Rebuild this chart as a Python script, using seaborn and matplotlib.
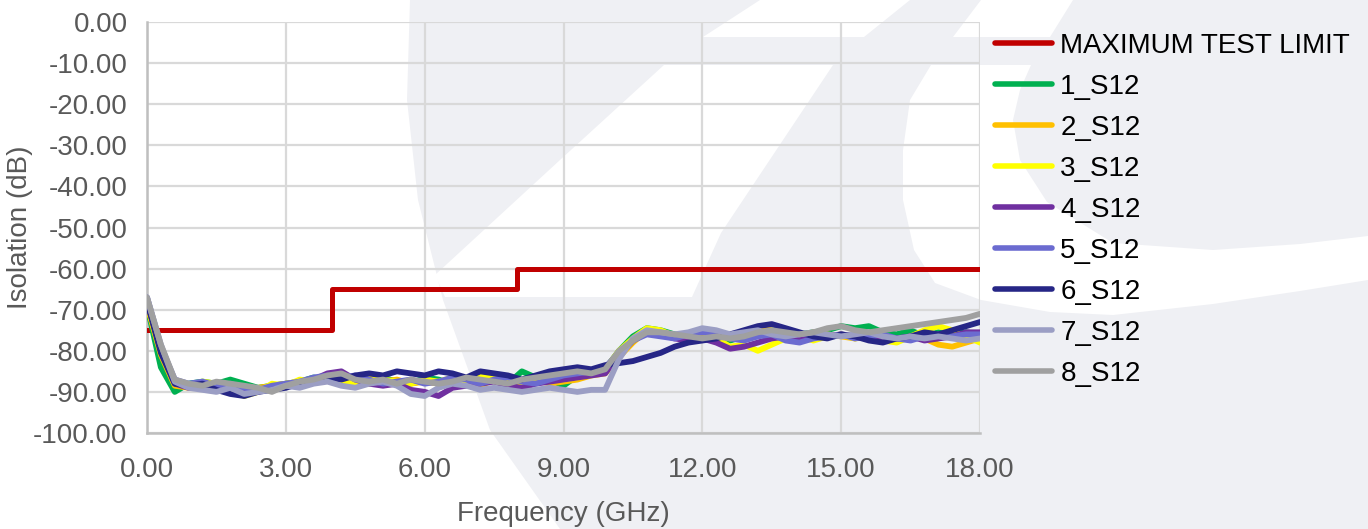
import numpy as np
import pandas as pd
import seaborn as sns
import matplotlib.pyplot as plt
from matplotlib.patches import Polygon
from matplotlib.lines import Line2D

sns.set_style("white")
plt.rcParams['font.family'] = ['Liberation Sans', 'DejaVu Sans']

## data (Isolation in dB vs frequency in GHz)
freq_ghz = [0.0, 0.3, 0.6, 0.9, 1.2, 1.5, 1.8, 2.1, 2.4, 2.7,
            3.0, 3.3, 3.6, 3.9, 4.2, 4.5, 4.8, 5.1, 5.4, 5.7,
            6.0, 6.3, 6.6, 6.9, 7.2, 7.5, 7.8, 8.1, 8.4, 8.7,
            9.0, 9.3, 9.6, 9.9, 10.2, 10.5, 10.8, 11.1, 11.4, 11.7,
            12.0, 12.3, 12.6, 12.9, 13.2, 13.5, 13.8, 14.1, 14.4, 14.7,
            15.0, 15.3, 15.6, 15.9, 16.2, 16.5, 16.8, 17.1, 17.4, 17.7,
            18.0]

s12_1 = [-69.0, -84.0, -90.0, -88.0, -87.5, -88.0, -87.0, -88.0, -89.0, -88.5,
         -88.0, -87.5, -86.5, -87.0, -88.0, -87.5, -87.0, -86.5, -87.5, -88.0,
         -86.5, -87.0, -88.0, -87.5, -86.0, -87.0, -88.0, -85.0, -86.5, -87.0,
         -88.5, -86.0, -85.5, -84.5, -80.0, -76.5, -74.5, -75.0, -76.0, -76.5,
         -75.5, -76.5, -77.5, -76.5, -76.0, -75.0, -75.5, -76.0, -75.5, -75.0,
         -74.0, -74.5, -74.0, -75.5, -76.0, -75.0, -76.5, -75.5, -76.0, -75.5,
         -76.0]
s12_2 = [-69.0, -81.0, -88.5, -89.0, -88.5, -89.5, -88.5, -90.0, -89.0, -88.5,
         -88.0, -87.5, -87.0, -86.0, -85.5, -87.0, -88.0, -87.5, -87.0, -88.0,
         -87.5, -88.0, -86.5, -87.5, -88.5, -87.0, -86.5, -88.0, -87.0, -88.0,
         -87.5, -87.0, -86.0, -85.5, -81.5, -78.0, -75.0, -75.5, -76.5, -77.0,
         -76.0, -76.5, -77.0, -76.5, -74.5, -75.0, -76.5, -77.0, -75.5, -76.0,
         -76.5, -77.0, -76.0, -76.5, -77.5, -76.5, -77.0, -78.5, -79.0, -78.0,
         -77.0]
s12_3 = [-68.5, -80.5, -88.0, -88.5, -87.5, -88.0, -89.5, -91.0, -90.0, -88.0,
         -88.5, -87.0, -87.5, -86.5, -87.5, -88.0, -86.5, -87.0, -87.5, -88.0,
         -87.0, -87.5, -86.5, -88.0, -86.0, -86.5, -87.5, -88.0, -87.0, -86.0,
         -87.0, -86.5, -85.0, -84.5, -80.0, -77.0, -74.5, -75.0, -76.5, -77.5,
         -76.5, -77.0, -79.0, -78.5, -80.0, -78.5, -77.0, -76.5, -77.5, -76.5,
         -76.0, -77.0, -76.5, -77.5, -78.0, -76.5, -75.0, -74.0, -75.0, -76.5,
         -78.0]
s12_4 = [-68.0, -80.0, -88.0, -89.0, -88.5, -88.0, -89.0, -89.5, -90.0, -89.0,
         -88.5, -88.0, -87.0, -85.5, -85.0, -87.0, -88.0, -88.5, -88.0, -89.5,
         -90.0, -91.0, -89.0, -88.5, -88.0, -87.5, -88.5, -89.0, -88.0, -87.5,
         -87.0, -86.5, -86.0, -85.5, -81.0, -77.5, -75.5, -76.0, -77.0, -77.5,
         -77.0, -78.0, -79.5, -79.0, -78.0, -77.0, -76.5, -77.0, -76.0, -76.5,
         -76.0, -76.5, -77.0, -77.5, -77.0, -76.5, -77.5, -77.0, -76.5, -75.5,
         -75.5]
s12_5 = [-67.0, -79.0, -87.0, -88.0, -87.5, -88.5, -88.0, -89.0, -89.5, -88.5,
         -88.0, -87.5, -86.5, -86.0, -86.5, -86.0, -87.0, -88.0, -87.5, -87.0,
         -88.0, -87.5, -86.5, -87.0, -88.0, -87.0, -86.5, -87.5, -88.0, -87.0,
         -86.0, -85.5, -85.0, -84.0, -80.5, -77.5, -76.0, -76.5, -77.0, -76.0,
         -75.5, -76.0, -77.0, -77.5, -76.5, -76.0, -77.5, -78.0, -77.0, -76.5,
         -76.0, -77.0, -76.5, -76.0, -77.0, -77.5, -76.5, -76.0, -76.5, -76.0,
         -76.0]
s12_6 = [-68.0, -80.5, -88.0, -88.5, -88.0, -89.5, -90.5, -91.0, -90.0, -89.5,
         -89.0, -88.0, -87.5, -86.5, -87.0, -86.0, -85.5, -86.0, -85.0, -85.5,
         -86.0, -85.0, -85.5, -86.5, -85.0, -85.5, -86.0, -87.0, -86.0, -85.0,
         -84.5, -84.0, -84.5, -83.5, -83.0, -82.5, -81.5, -80.5, -79.0, -78.0,
         -77.5, -77.0, -76.0, -75.0, -74.0, -73.5, -74.5, -75.5, -76.5, -77.0,
         -76.0, -76.5, -77.5, -78.0, -77.0, -76.5, -75.5, -76.0, -75.0, -74.0,
         -73.0]
s12_7 = [-67.0, -78.5, -87.5, -89.0, -89.5, -90.0, -89.0, -90.5, -90.0, -89.5,
         -88.5, -89.0, -88.0, -87.5, -88.5, -89.0, -88.0, -87.5, -88.5, -90.5,
         -91.0, -89.0, -88.0, -88.5, -89.5, -89.0, -89.5, -90.0, -89.5, -89.0,
         -89.5, -90.0, -89.5, -89.5, -82.0, -77.0, -75.0, -75.5, -76.0, -75.5,
         -74.5, -75.0, -76.0, -75.5, -75.0, -76.0, -76.5, -76.0, -75.5, -76.0,
         -76.5, -76.0, -75.5, -76.5, -77.0, -76.5, -77.0, -76.5, -77.0, -77.5,
         -77.0]
s12_8 = [-67.0, -78.5, -87.0, -88.0, -88.5, -87.5, -88.0, -88.5, -89.0, -90.0,
         -88.5, -87.5, -87.0, -86.0, -85.5, -87.0, -87.5, -87.0, -88.0, -87.0,
         -87.5, -88.0, -87.5, -86.5, -87.0, -87.5, -88.0, -87.0, -86.5, -86.0,
         -85.5, -85.0, -85.5, -84.5, -80.0, -77.5, -75.5, -75.5, -76.0, -76.5,
         -77.0, -76.5, -77.0, -76.5, -75.5, -75.0, -75.5, -76.0, -75.5, -74.5,
         -74.0, -75.0, -75.5, -75.0, -74.5, -74.0, -73.5, -73.0, -72.5, -72.0,
         -71.0]

limit_freq = [0.0, 4.0, 4.0, 8.0, 8.0, 18.0]
limit_db = [-75.0, -75.0, -65.0, -65.0, -60.0, -60.0]

series_names = ["1_S12", "2_S12", "3_S12", "4_S12", "5_S12", "6_S12", "7_S12", "8_S12"]
series_vals = [s12_1, s12_2, s12_3, s12_4, s12_5, s12_6, s12_7, s12_8]
series_colors = ["#00B050", "#FFC000", "#FFFF00", "#7030A0",
                 "#6B6BD0", "#262686", "#9B9EC4", "#A0A0A0"]
limit_color = "#C00000"

rows = []
for name, vals in zip(series_names, series_vals):
    assert len(vals) == len(freq_ghz)
    for f, v in zip(freq_ghz, vals):
        rows.append({"freq": f, "db": v, "series": name})
df = pd.DataFrame(rows)

W, H = 1368, 529
fig = plt.figure(figsize=(W / 100, H / 100), dpi=100)

## faint logo watermark in the background (pixel outlines -> figure fraction)
def px(pts):
    return [(x / W, 1 - y / H) for x, y in pts]

wm_gray = "#EFF0F4"
fig.add_artist(Polygon(px([(0, 0), (W, 0), (W, H), (0, H)]), closed=True,
                       facecolor=wm_gray, edgecolor="none", zorder=-3))
white_shapes = [
    [(0, 0), (410, 0), (407, 100), (418, 200), (443, 300), (490, 430), (560, 529), (0, 529)],
    [(664, 65), (833, 65), (721, 233), (692, 297), (445, 297), (435, 275), (560, 160)],
    [(760, 0), (910, 0), (864, 37), (703, 37)],
    [(981, 0), (1073, 0), (1050, 37), (953, 37)],
    [(931, 65), (910, 100), (903, 150), (903, 200), (914, 250), (935, 283), (981, 300),
     (1050, 312), (1113, 315), (1213, 304), (1300, 291), (1368, 280), (1368, 236),
     (1300, 244), (1213, 250), (1113, 243), (1047, 202), (1020, 160), (1013, 120),
     (1020, 90), (1031, 65)],
]
for shp in white_shapes:
    fig.add_artist(Polygon(px(shp), closed=True, facecolor="white",
                           edgecolor="none", zorder=-2))

ax = fig.add_axes([147 / W, 1 - 433 / H, (980 - 147) / W, (433 - 22) / H])
ax.set_facecolor("none")

sns.lineplot(x=limit_freq, y=limit_db, color=limit_color, linewidth=3.6,
             sort=False, estimator=None, ax=ax, zorder=3)
sns.lineplot(data=df, x="freq", y="db", hue="series", hue_order=series_names,
             palette=dict(zip(series_names, series_colors)), linewidth=4.2,
             sort=False, estimator=None, legend=False, ax=ax, zorder=4)

ax.set_xlim(0, 18)
ax.set_ylim(-100, 0)
ax.set_xticks(np.arange(0, 18.1, 3))
ax.set_yticks(np.arange(-100, 0.1, 10))
ax.xaxis.set_major_formatter(plt.FormatStrFormatter("%.2f"))
ax.yaxis.set_major_formatter(plt.FormatStrFormatter("%.2f"))
ax.grid(True, color="#D9D9D9", linewidth=1.6)
ax.set_axisbelow(True)
for side in ["top", "right"]:
    ax.spines[side].set_visible(False)
for side in ["left", "bottom"]:
    ax.spines[side].set_color("#BFBFBF")
    ax.spines[side].set_linewidth(1.8)
ax.tick_params(axis="both", length=0, labelsize=20, labelcolor="#595959")
ax.tick_params(axis="y", pad=14)
ax.tick_params(axis="x", pad=17.5)

ax.set_xlabel("Frequency (GHz)", fontsize=20, color="#595959", labelpad=12.5)
ax.set_ylabel("Isolation (dB)", fontsize=20, color="#595959")
ax.yaxis.set_label_coords(-0.137, 0.5)

handles = [Line2D([0], [0], color=limit_color, linewidth=4, solid_capstyle="round")]
handles += [Line2D([0], [0], color=c, linewidth=4, solid_capstyle="round") for c in series_colors]
labels = ["MAXIMUM TEST LIMIT"] + series_names
fig.legend(handles, labels, loc="upper left", bbox_to_anchor=(995 / W, 1 - 33 / H),
           frameon=False, fontsize=20, labelcolor="black", handlelength=2.05,
           handletextpad=0.3, labelspacing=0.54, borderpad=0, borderaxespad=0)

fig.savefig("out.png", dpi=100)
